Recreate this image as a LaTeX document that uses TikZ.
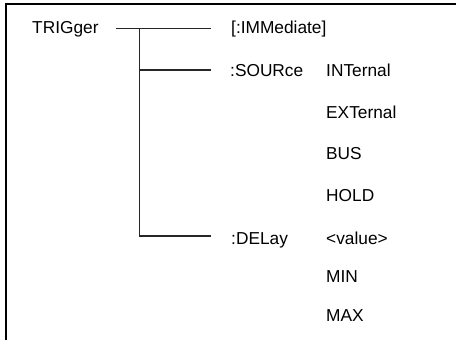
\documentclass[tikz,border=0pt]{standalone}
\usepackage{fontspec}
\setmainfont{Liberation Sans}
\begin{document}
\begin{tikzpicture}[x=1pt,y=-1pt,
  lbl/.style={anchor=base west,inner sep=0pt,font=\fontsize{17.3}{19}\selectfont},
  tree/.style={line width=1.6pt,black!85},
  frame/.style={line width=2pt,black}]
\useasboundingbox (0,0) rectangle (456,340);
\draw[frame] (6,340) -- (6,3.7) -- (456,3.7);
\node[lbl] (trig) at (32,34) {TRIGger};
\node[lbl] (imm) at (231,33) {[:IMMediate]};
\node[lbl] (sour) at (230,76) {:SOURce};
\node[lbl] (int) at (326,76) {INTernal};
\node[lbl] (ext) at (326,118) {EXTernal};
\node[lbl] (bus) at (326,159) {BUS};
\node[lbl] (hold) at (326,201) {HOLD};
\node[lbl] (del) at (231,244) {:DELay};
\node[lbl] (val) at (326,244) {<value>};
\node[lbl] (min) at (326,282) {MIN};
\node[lbl] (max) at (326,321) {MAX};
\coordinate (a) at (115.7,28.3);
\coordinate (b) at (211,28.3);
\coordinate (j) at (139.3,28.3);
\coordinate (s1) at (139.3,69.7);
\coordinate (s2) at (211,69.7);
\coordinate (d1) at (139.3,236);
\coordinate (d2) at (211,236);
\draw[tree] (a) -- (b);
\draw[tree] (j) -- (d1) -- (d2);
\draw[tree] (s1) -- (s2);
\end{tikzpicture}
\end{document}
